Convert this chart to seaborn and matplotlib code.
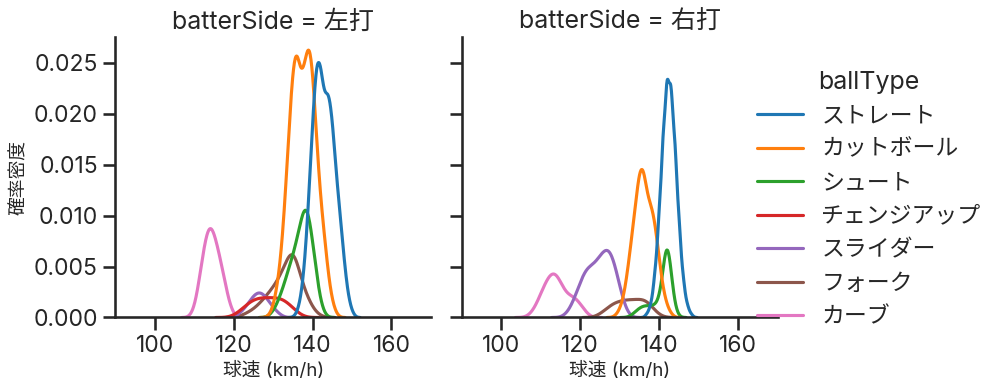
import numpy as np
import pandas as pd
import seaborn as sns
import matplotlib.pyplot as plt

sns.set_theme(style="ticks", context="talk")
plt.rcParams["font.family"] = ["Inter", "Noto Sans CJK JP"]

ball_types = ["ストレート", "カットボール", "シュート", "チェンジアップ", "スライダー", "フォーク", "カーブ"]
sides = ["左打", "右打"]

# pitches per 1 km/h step, given as (first speed, counts)
# 左打
left_straight = (136, [2, 9, 26, 58, 98, 132, 130, 109, 116, 101, 72, 52, 29, 11, 3])
left_cutter = (129, [1, 5, 15, 30, 57, 94, 127, 139, 120, 126, 142, 128, 90, 60, 42, 21, 8, 2])
left_shoot = (129, [1, 3, 7, 12, 18, 25, 31, 39, 48, 58, 54, 39, 22, 8, 2])
left_change = (120, [1, 2, 4, 6, 8, 9, 10, 10, 10, 10, 10, 10, 10, 9, 7, 5, 3, 1])
left_slider = (121, [1, 3, 5, 8, 11, 13, 13, 11, 8, 5, 3, 1])
left_fork = (122, [1, 2, 3, 4, 6, 8, 10, 13, 15, 18, 22, 26, 32, 38, 30, 19, 14, 9, 5, 2, 1])
left_curve = (109, [1, 5, 15, 29, 41, 47, 43, 35, 26, 16, 7, 2])
# 右打
right_straight = (137, [2, 7, 23, 52, 92, 122, 118, 88, 50, 21, 7, 2])
right_cutter = (129, [1, 4, 10, 23, 40, 56, 76, 78, 60, 57, 48, 29, 14, 6, 2])
right_shoot = (133, [1, 3, 5, 6, 6, 6, 6, 8, 18, 57, 20, 3])
right_slider = (116, [1, 3, 7, 12, 18, 23, 26, 26, 28, 31, 34, 36, 33, 25, 16, 7, 2])
right_fork = (125, [2, 3, 5, 7, 8, 8, 9, 9, 9, 9, 9, 10, 9, 6, 3, 1])
right_curve = (107, [1, 3, 7, 12, 17, 21, 24, 23, 18, 13, 11, 11, 10, 7, 4, 1])

groups = [
    ("左打", "ストレート", left_straight),
    ("左打", "カットボール", left_cutter),
    ("左打", "シュート", left_shoot),
    ("左打", "チェンジアップ", left_change),
    ("左打", "スライダー", left_slider),
    ("左打", "フォーク", left_fork),
    ("左打", "カーブ", left_curve),
    ("右打", "ストレート", right_straight),
    ("右打", "カットボール", right_cutter),
    ("右打", "シュート", right_shoot),
    ("右打", "スライダー", right_slider),
    ("右打", "フォーク", right_fork),
    ("右打", "カーブ", right_curve),
]

frames = []
for side, ball, (start, counts) in groups:
    speeds = start + np.arange(len(counts))
    frames.append(pd.DataFrame({
        "speed": np.repeat(speeds, counts).astype(float),
        "ballType": ball,
        "batterSide": side,
    }))
df = pd.concat(frames, ignore_index=True)

g = sns.displot(data=df, x="speed", hue="ballType", col="batterSide", kind="kde",
                hue_order=ball_types, col_order=sides, palette="tab10",
                height=4, aspect=1)
g.set_axis_labels("球速 (km/h)", "確率密度", fontsize=13.5)
g.set(xlim=(90, 170), xticks=[100, 120, 140, 160])

g.figure.set_size_inches(10.02, 3.91)
g.figure.subplots_adjust(left=0.115, right=0.776, bottom=0.188, top=0.906, wspace=0.098)
sns.move_legend(g, "center right", bbox_to_anchor=(1, 0.49))
g.figure.savefig("out.png", dpi=100)
